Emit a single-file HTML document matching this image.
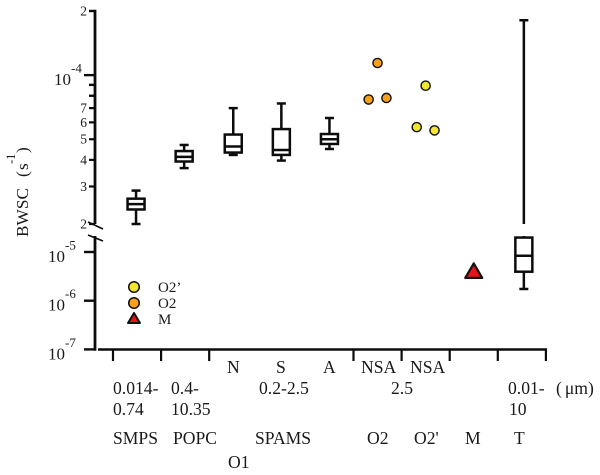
<!DOCTYPE html>
<html>
<head>
<meta charset="utf-8">
<style>
html,body{margin:0;padding:0;background:#fff;}
svg{display:block;font-family:"Liberation Serif",serif;fill:#1a1a1a;}
</style>
</head>
<body>
<svg id="chart" width="600" height="475" viewBox="0 0 600 475" xmlns="http://www.w3.org/2000/svg">
<text transform="translate(28,237) rotate(-90)" font-size="17.3">BWSC<tspan x="60">(</tspan><tspan x="67">s</tspan><tspan x="73" y="-13" font-size="12.5">-1</tspan><tspan x="84" y="0">)</tspan></text>
<g>
<circle cx="134" cy="287" r="5.3" fill="#f2e62e" stroke="#111" stroke-width="1.5"/>
<text x="158" y="292" font-size="15">O2’</text>
<circle cx="134" cy="303" r="5.3" fill="#f7a11a" stroke="#111" stroke-width="1.5"/>
<text x="158" y="308" font-size="15">O2</text>
<path d="M134 313 L140 323 L128 323 Z" fill="#e3141b" stroke="#111" stroke-width="2" stroke-linejoin="round"/>
<text x="158" y="324" font-size="15">M</text>
</g>
<g font-size="17.6">
<text x="227" y="373">N</text>
<text x="276" y="373">S</text>
<text x="323" y="373">A</text>
<text x="361" y="373">NSA</text>
<text x="410" y="373">NSA</text>
<text x="113" y="394">0.014-</text>
<text x="113" y="415">0.74</text>
<text x="171" y="394">0.4-</text>
<text x="171" y="415">10.35</text>
<text x="259" y="394">0.2-2.5</text>
<text x="391" y="394">2.5</text>
<text x="508" y="394">0.01-</text>
<text x="509" y="415">10</text>
<text x="556" y="394">(<tspan dx="3">μm</tspan>)</text>
<text x="113" y="444">SMPS</text>
<text x="173" y="444">POPC</text>
<text x="255" y="444">SPAMS</text>
<text x="367" y="444">O2</text>
<text x="414" y="444">O2'</text>
<text x="465" y="444">M</text>
<text x="514" y="444">T</text>
<text x="228" y="468">O1</text>
</g>
</svg>
<script>
const boxCategories = ['SMPS', 'POPC', 'N', 'S', 'A', 'T'];
const boxBands = [0, 1, 2, 3, 4, 8];
const whiskerHigh = [2.87e-5, 4.70e-5, 7.0e-5, 7.36e-5, 6.29e-5, 1.81e-4];
const boxHigh = [2.63e-5, 4.40e-5, 5.26e-5, 5.58e-5, 5.29e-5, 1.98e-5];
const boxMedian = [2.48e-5, 4.13e-5, 4.62e-5, 4.45e-5, 5.0e-5, 8.4e-6];
const boxLow = [2.34e-5, 3.93e-5, 4.33e-5, 4.22e-5, 4.75e-5, 3.94e-6];
const whiskerLow = [2.0e-5, 3.66e-5, 4.22e-5, 3.97e-5, 4.5e-5, 1.74e-6];
const o2Values = [7.68e-5, 1.14e-4, 7.81e-5];
const o2PrimeValues = [5.7e-5, 8.92e-5, 5.5e-5];
const o2Band = 5;
const o2PrimeBand = 6;
const mValue = 4e-6;
const mBand = 7;
const upperMinorTicks = [2e-4, 9e-5, 8e-5];
const upperLabelTicks = [7e-5, 6e-5, 5e-5, 4e-5, 3e-5, 2e-5];
const upperLabelText = ['7', '6', '5', '4', '3', '2'];
const lowerExponents = [-5, -6, -7];
const topLabel = '2';
const xTickBands = [0, 1, 2, 5, 6, 7, 8, 9];

const NS = 'http://www.w3.org/2000/svg';
const svg = document.getElementById('chart');
const BREAK = 2e-5;
const LOWER_TOP = 2.13e-5;
function yUpper(v) {
  return 11 + Math.log10(2e-4 / v) * 213;
}
function yLower(v) {
  return 252 - Math.log10(v / 1e-5) * 48.7;
}
function x(band) {
  return 113 + 48.1 * band;
}
function mid(band) {
  return x(band + 0.5);
}
function add(tag, attrs, parent) {
  const el = document.createElementNS(NS, tag);
  for (const k in attrs) el.setAttribute(k, attrs[k]);
  (parent || svg).appendChild(el);
  return el;
}
function line(x1, y1, x2, y2, w, parent) {
  return add('line', { x1: x1, y1: y1, x2: x2, y2: y2, stroke: '#0c0c0c', 'stroke-width': w }, parent);
}

const axisY = add('g', {});


const AX = 95;
line(AX, yUpper(2e-4) - 1.3, AX, yUpper(2e-5), 2.8, axisY);
line(AX, 236, AX, 350.8, 2.8, axisY);
line(88, 222, 103, 229, 1.7, axisY);
line(88, 235, 103, 241, 1.7, axisY);
upperMinorTicks.forEach(function (v) {
  line(89, yUpper(v), AX, yUpper(v), 2.4, axisY);
});
line(84, yUpper(1e-4), AX, yUpper(1e-4), 2.4, axisY);
upperLabelTicks.forEach(function (v, i) {
  const ty = yUpper(v);
  line(89, ty, AX, ty, 2.2, axisY);
  const t = add('text', { x: 87, y: ty + 4.5, 'text-anchor': 'end', 'font-size': 13.5 }, axisY);
  
  
  t.textContent = upperLabelText[i];
});
const topTick = add('text', { x: 87, y: yUpper(2e-4) + 4.5, 'text-anchor': 'end', 'font-size': 13.5 }, axisY);


topTick.textContent = topLabel;

function powerLabel(exp, ty, lx, size) {
  const t = add('text', { x: lx, y: ty + 10, 'font-size': size }, axisY);
  
  
  t.textContent = '10';
  const s = add('tspan', { dy: -12.5, 'font-size': 13 }, t);
  s.textContent = String(exp);
}
powerLabel(-4, yUpper(1e-4), 54, 17);
lowerExponents.forEach(function (e) {
  const v = Math.pow(10, e);
  const ty = yLower(v);
  line(84, ty, AX, ty, 2.4, axisY);
  powerLabel(e, ty, 48, 17);
});

const axisX = add('g', {});


const AXY = 349.5;
line(98, AXY, x(9) + 1.2, AXY, 2.4, axisX);
xTickBands.forEach(function (b) {
  line(x(b), AXY, x(b), 361, 2.2, axisX);
});

boxCategories.forEach(function (name, i) {
  const g = add('g', {});
  
  
  const cx = mid(boxBands[i]) + (boxBands[i] === 8 ? 2 : 0) - (boxBands[i] < 2 ? 1 : 0);
  const hw = 8.5;
  const capW = 4.5;
  const sw = 2.5;
  const crossesBreak = whiskerHigh[i] > BREAK && boxHigh[i] <= BREAK;
  const top = boxHigh[i] <= BREAK ? yLower(boxHigh[i]) : yUpper(boxHigh[i]);
  const bottom = boxLow[i] < BREAK ? yLower(boxLow[i]) : yUpper(boxLow[i]);
  const med = boxMedian[i] < BREAK ? yLower(boxMedian[i]) : yUpper(boxMedian[i]);
  const wl = whiskerLow[i] < BREAK ? yLower(whiskerLow[i]) : yUpper(whiskerLow[i]);
  const wh = yUpper(whiskerHigh[i]);
  if (crossesBreak) {
    line(cx, wh, cx, yUpper(BREAK), sw, g);
    line(cx, yLower(LOWER_TOP), cx, top, sw, g);
  } else {
    line(cx, wh, cx, top, sw, g);
  }
  line(cx, bottom, cx, wl, sw, g);
  line(cx - capW, wh, cx + capW, wh, sw, g);
  line(cx - capW, wl, cx + capW, wl, sw, g);
  add('rect', { x: cx - hw, y: top, width: hw * 2, height: bottom - top, fill: '#fff', stroke: '#0c0c0c', 'stroke-width': sw }, g);
  line(cx - hw, med, cx + hw, med, sw, g);
});

function drawPoints(values, band, fill, name) {
  const offsets = [-0.185, 0, 0.185];
  values.forEach(function (v, i) {
    const c = add('circle', { cx: mid(band + offsets[i]), cy: yUpper(v), r: 4.6, fill: fill, stroke: '#111', 'stroke-width': 1.4 });
    
    
  });
}
drawPoints(o2Values, o2Band, '#f7a11a', 'point-o2');
drawPoints(o2PrimeValues, o2PrimeBand, '#f2e62e', 'point-o2-prime');

const mx = mid(mBand);
const my = yLower(mValue);
const tri = add('path', { d: 'M' + mx + ' ' + (my - 8) + ' L' + (mx + 8.5) + ' ' + (my + 6.5) + ' L' + (mx - 8.5) + ' ' + (my + 6.5) + ' Z', fill: '#e3141b', stroke: '#111', 'stroke-width': 2.2, 'stroke-linejoin': 'round' });


</script>
</body>
</html>
